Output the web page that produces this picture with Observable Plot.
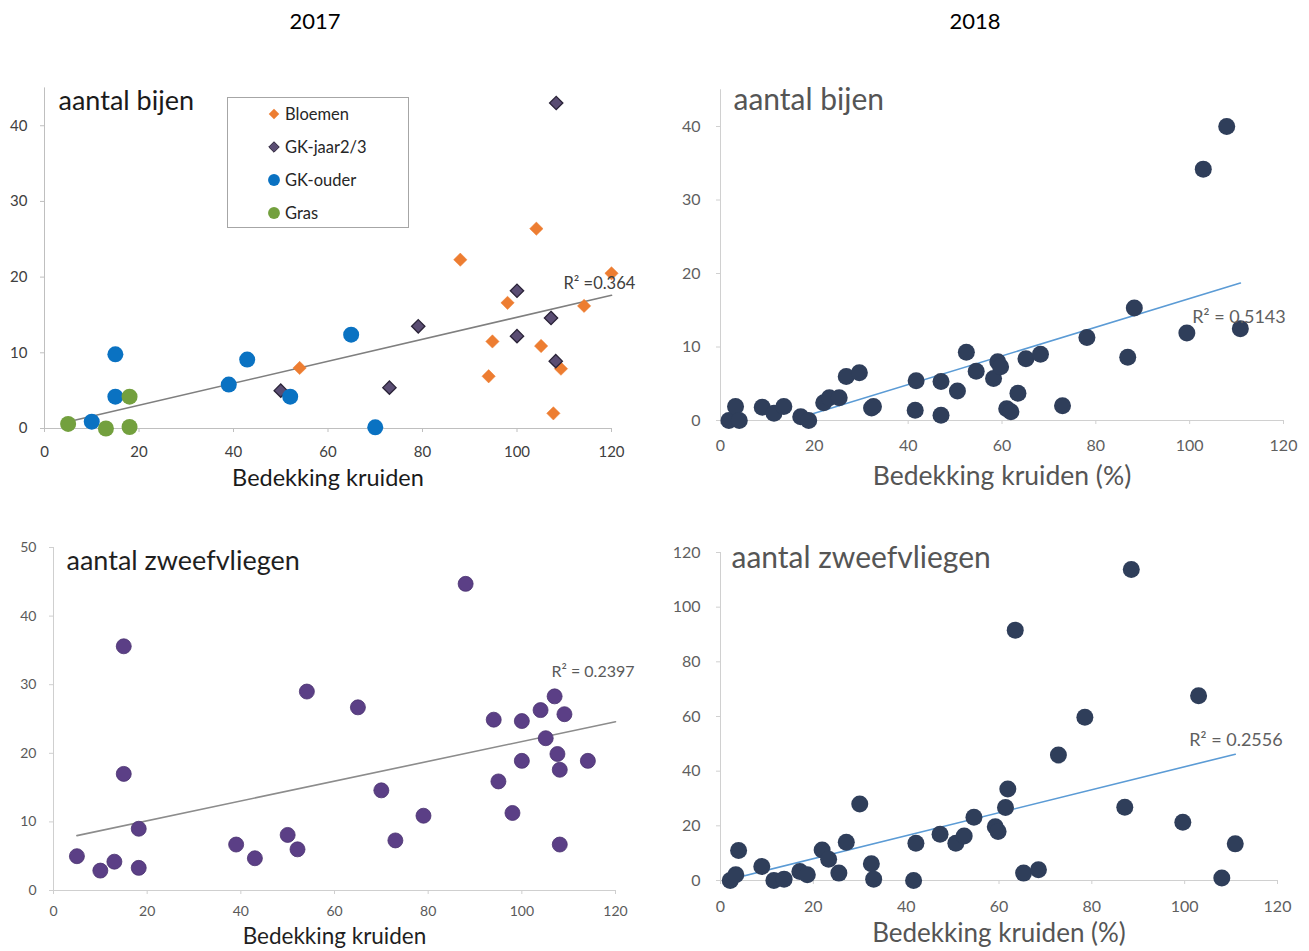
<!DOCTYPE html>
<html>
<head>
<meta charset="utf-8">
<script src="https://cdn.jsdelivr.net/npm/d3@7"></script>
<script src="https://cdn.jsdelivr.net/npm/@observablehq/plot@0.6"></script>
<style>
  body { margin: 0; background: #fff; font-family: Lato, "Open Sans", sans-serif; }
  #wrap { position: relative; width: 1309px; height: 951px; overflow: hidden; background: #fff; }
  .panel { position: absolute; }
  .panel svg { overflow: visible; }
  .year { position: absolute; top: 7px; font-size: 22px; color: #000; transform: translateX(-50%); }
  #legend { position: absolute; left: 227px; top: 97px; width: 182px; height: 131px; border: 1px solid #A6A6A6;
            box-sizing: border-box; background: #fff; }
  #legend .row { position: absolute; left: 39px; height: 20px; display: flex; align-items: center; font-size: 16.5px; color: #262626; }
  #legend svg { margin-right: 4px; }
</style>
</head>
<body>
<div id="wrap"></div>
<script>
// ---------- DATA ----------
const years = ["2017", "2018"];
const xTicks = [0, 20, 40, 60, 80, 100, 120];
const beeTicks = [0, 10, 20, 30, 40];
const fly2017Ticks = [0, 10, 20, 30, 40, 50];
const fly2018Ticks = [0, 20, 40, 60, 80, 100, 120];

// 2017 - aantal bijen, per groep
const seriesNames = ["Bloemen", "GK-jaar2/3", "GK-ouder", "Gras"];
const bloemenX = [54, 88, 104.1, 98, 94.8, 94, 105.1, 107.7, 109.3, 114.2, 120];
const bloemenY = [8.0, 22.3, 26.4, 16.6, 11.5, 6.9, 10.9, 2.0, 7.9, 16.2, 20.5];
const gkJaarX = [108.3, 100, 100, 107.2, 108.2, 79.1, 73, 50];
const gkJaarY = [43.0, 18.2, 12.2, 14.6, 8.9, 13.5, 5.4, 5.0];
const gkOuderX = [15, 15, 10, 39, 42.9, 52, 64.9, 70];
const gkOuderY = [9.8, 4.2, 0.9, 5.8, 9.1, 4.2, 12.4, 0.15];
const grasX = [5, 13, 18, 18];
const grasY = [0.6, 0, 4.2, 0.2];
const trendBees2017X = [5, 120];
const trendBees2017Y = [0.9, 17.6];
const r2Bees2017 = "R\u00B2 =0.364";

// 2018 - aantal bijen
const bees2018X = [1.8, 3.2, 4.0, 8.9, 11.4, 13.5, 17.1, 18.8, 22.0, 23.2, 25.3, 26.8, 29.6, 32.2, 32.6, 41.7, 41.5, 47.0, 47.0, 50.5,
                   52.4, 54.5, 58.2, 59.1, 59.7, 61.0, 61.9, 63.4, 65.1, 68.2, 72.9, 78.1, 86.8, 88.2, 99.4, 102.9, 107.9, 110.8];
const bees2018Y = [0, 1.9, 0, 1.8, 1.0, 1.9, 0.5, 0, 2.4, 3.1, 3.1, 6.0, 6.5, 1.7, 1.9, 5.4, 1.4, 5.3, 0.7, 4.0,
                   9.3, 6.7, 5.7, 8.0, 7.3, 1.6, 1.2, 3.7, 8.4, 9.0, 2.0, 11.3, 8.6, 15.3, 11.9, 34.2, 40.0, 12.5];
const trendBees2018X = [16.7, 110.8];
const trendBees2018Y = [0.35, 18.7];
const r2Bees2018 = "R\u00B2 = 0.5143";

// 2017 - aantal zweefvliegen
const flies2017X = [5, 10, 13, 15, 15, 18.2, 18.2, 39, 43, 50, 52.1, 54.1, 65, 70, 73, 79, 88, 94, 95, 98,
                    100, 100, 104, 105.1, 107, 107.6, 108.1, 108.1, 109.1, 114.1];
const flies2017Y = [5.0, 2.9, 4.2, 35.6, 17.0, 9.0, 3.3, 6.7, 4.7, 8.1, 6.0, 29.0, 26.7, 14.6, 7.3, 10.9, 44.7, 24.9, 15.9, 11.3,
                    24.7, 18.9, 26.3, 22.2, 28.3, 19.9, 17.6, 6.7, 25.7, 18.9];
const trendFlies2017X = [5, 120];
const trendFlies2017Y = [8.0, 24.6];
const r2Flies2017 = "R\u00B2 = 0.2397";

// 2018 - aantal zweefvliegen
const flies2018X = [2.1, 3.3, 3.9, 8.9, 11.5, 13.7, 17.1, 18.7, 21.9, 23.3, 25.5, 27.1, 30.0, 32.5, 33.0, 41.6, 42.1, 47.3,
                    50.7, 52.5, 54.6, 59.2, 59.8, 61.4, 61.9, 63.5, 65.3, 68.5, 72.8, 78.5, 87.1, 88.5, 99.6, 103.0, 108.0, 110.9];
const flies2018Y = [0, 2.1, 11.0, 5.1, 0, 0.5, 3.3, 2.1, 11.2, 7.8, 2.7, 14.0, 28.0, 6.1, 0.5, 0, 13.6, 16.9,
                    13.6, 16.3, 23.1, 19.7, 17.9, 26.7, 33.5, 91.6, 2.7, 3.9, 45.9, 59.7, 26.8, 113.8, 21.3, 67.6, 0.9, 13.4];
const trendFlies2018X = [2.0, 110.9];
const trendFlies2018Y = [0.4, 46.2];
const r2Flies2018 = "R\u00B2 = 0.2556";

const titleBees = "aantal bijen";
const titleFlies = "aantal zweefvliegen";
const xLabel2017 = "Bedekking kruiden";
const xLabel2018 = "Bedekking kruiden (%)";

// ---------- HELPERS ----------
const zip = (xs, ys) => xs.map((x, i) => ({x, y: ys[i]}));
const wrap = document.getElementById("wrap");

function panel(cfg) {
  const trend = zip(cfg.trendX, cfg.trendY);
  const end = trend[trend.length - 1];
  const chart = Plot.plot({
    width: cfg.width, height: cfg.height,
    marginLeft: cfg.ml, marginRight: cfg.mr, marginTop: cfg.mt, marginBottom: cfg.mb,
    style: {fontFamily: "Lato, 'Open Sans', sans-serif", background: "transparent", overflow: "visible"},
    x: {domain: [0, 120]},
    y: {domain: [0, cfg.yMax]},
    marks: [
      Plot.ruleY([0], {stroke: cfg.axisColor}),
      Plot.ruleX([0], {stroke: cfg.axisColor}),
      Plot.axisX({ticks: xTicks, tickSize: 4, tickPadding: cfg.xPad, fontSize: cfg.tickFont,
                  stroke: cfg.axisColor, fill: cfg.tickColor, label: null}),
      Plot.axisY({ticks: cfg.yTicks, tickSize: 4, tickPadding: cfg.yPad, fontSize: cfg.tickFont,
                  stroke: cfg.axisColor, fill: cfg.tickColor, label: null}),
      Plot.line(trend, {x: "x", y: "y", stroke: cfg.trendColor, strokeWidth: 1.6}),
      ...cfg.dots,
      Plot.text([cfg.title], {frameAnchor: "top-left", dx: cfg.titleDx, dy: cfg.titleDy, textAnchor: "start",
                              lineAnchor: "middle", fontSize: cfg.titleFont, fill: cfg.titleColor}),
      Plot.text([cfg.xLabel], {frameAnchor: "bottom", dy: cfg.xLabelDy, lineAnchor: "middle",
                               fontSize: cfg.xLabelFont, fill: cfg.titleColor}),
      Plot.text([cfg.r2], {x: () => end.x, y: () => end.y, dx: cfg.r2Dx, dy: cfg.r2Dy, textAnchor: "start",
                           lineAnchor: "middle", fontSize: cfg.r2Font, fill: cfg.tickColor})
    ]
  });
  const div = document.createElement("div");
  div.className = "panel";
  div.style.left = cfg.left + "px";
  div.style.top = cfg.top + "px";
  div.appendChild(chart);
  wrap.appendChild(div);
}

// ---------- PANELS ----------
panel({
  left: 0, top: 60, width: 655, height: 445, ml: 44, mr: 44, mt: 27.4, mb: 77, yMax: 45, yTicks: beeTicks,
  axisColor: "#BFBFBF", tickColor: "#404040", titleColor: "#1a1a1a", trendColor: "#7F7F7F",
  tickFont: 15, xPad: 14, yPad: 13, titleFont: 27, xLabelFont: 23.5, r2Font: 16.5,
  title: titleBees, titleDx: 14, titleDy: 13.6, xLabel: xLabel2017, xLabelDy: 50,
  trendX: trendBees2017X, trendY: trendBees2017Y, r2: r2Bees2017, r2Dx: -48, r2Dy: -12,
  dots: [
    Plot.dot(zip(bloemenX, bloemenY), {x: "x", y: "y", symbol: "diamond2", r: 6, fill: "#ED7D31", stroke: "#ED7D31", strokeWidth: 0.5}),
    Plot.dot(zip(gkJaarX, gkJaarY), {x: "x", y: "y", symbol: "diamond2", r: 6, fill: "#5A4D73", stroke: "#2A2338", strokeWidth: 1.3}),
    Plot.dot(zip(gkOuderX, gkOuderY), {x: "x", y: "y", symbol: "circle", r: 8, fill: "#0A72C2"}),
    Plot.dot(zip(grasX, grasY), {x: "x", y: "y", symbol: "circle", r: 8, fill: "#73A03E"})
  ]
});

panel({
  left: 655, top: 60, width: 654, height: 445, ml: 65, mr: 26, mt: 29.25, mb: 85, yMax: 45, yTicks: beeTicks,
  axisColor: "#D0D0D0", tickColor: "#5F5F5F", titleColor: "#555555", trendColor: "#5B9BD5",
  tickFont: 16, xPad: 15, yPad: 16, titleFont: 30, xLabelFont: 26.5, r2Font: 18,
  title: titleBees, titleDx: 13, titleDy: 11, xLabel: xLabel2018, xLabelDy: 56,
  trendX: trendBees2018X, trendY: trendBees2018Y, r2: r2Bees2018, r2Dx: -48, r2Dy: 34,
  dots: [
    Plot.dot(zip(bees2018X, bees2018Y), {x: "x", y: "y", r: 8.5, fill: "#2F3E5A"})
  ]
});

panel({
  left: 0, top: 520, width: 655, height: 431, ml: 53, mr: 40, mt: 27, mb: 61, yMax: 50, yTicks: fly2017Ticks,
  axisColor: "#CFCFCF", tickColor: "#5A5A5A", titleColor: "#1f1f1f", trendColor: "#8C8C8C",
  tickFont: 14, xPad: 12, yPad: 13, titleFont: 27, xLabelFont: 22.5, r2Font: 16,
  title: titleFlies, titleDx: 13, titleDy: 14, xLabel: xLabel2017, xLabelDy: 46,
  trendX: trendFlies2017X, trendY: trendFlies2017Y, r2: r2Flies2017, r2Dx: -64, r2Dy: -50,
  dots: [
    Plot.dot(zip(flies2017X, flies2017Y), {x: "x", y: "y", r: 7.5, fill: "#5B3F86", stroke: "#4A3270", strokeWidth: 0.8})
  ]
});

panel({
  left: 655, top: 520, width: 654, height: 431, ml: 65, mr: 32, mt: 32, mb: 71, yMax: 120, yTicks: fly2018Ticks,
  axisColor: "#D0D0D0", tickColor: "#5F5F5F", titleColor: "#555555", trendColor: "#5B9BD5",
  tickFont: 16, xPad: 16, yPad: 16, titleFont: 30, xLabelFont: 26, r2Font: 18,
  title: titleFlies, titleDx: 11, titleDy: 6, xLabel: xLabel2018, xLabelDy: 53,
  trendX: trendFlies2018X, trendY: trendFlies2018Y, r2: r2Flies2018, r2Dx: -46, r2Dy: -14,
  dots: [
    Plot.dot(zip(flies2018X, flies2018Y), {x: "x", y: "y", r: 8.5, fill: "#2F3E5A"})
  ]
});

// ---------- YEAR HEADINGS ----------
const yearCenters = [315, 975];
years.forEach((yr, i) => {
  const d = document.createElement("div");
  d.className = "year";
  d.style.left = yearCenters[i] + "px";
  d.textContent = yr;
  wrap.appendChild(d);
});

// ---------- LEGEND (2017 bijen) ----------
const legendColors = ["#ED7D31", "#5A4D73", "#0A72C2", "#73A03E"];
const legendStrokes = ["#ED7D31", "#2A2338", "#0A72C2", "#73A03E"];
const legendSymbols = [d3.symbolDiamond2, d3.symbolDiamond2, d3.symbolCircle, d3.symbolCircle];
const legend = document.createElement("div");
legend.id = "legend";
seriesNames.forEach((name, i) => {
  const row = document.createElement("div");
  row.className = "row";
  row.style.top = (6 + i * 33) + "px";
  const svg = d3.create("svg").attr("width", 14).attr("height", 14).attr("viewBox", "-7 -7 14 14");
  svg.append("path").attr("d", d3.symbol(legendSymbols[i], i < 2 ? 70 : 110)())
     .attr("fill", legendColors[i]).attr("stroke", legendStrokes[i]).attr("stroke-width", i === 1 ? 1 : 0);
  row.appendChild(svg.node());
  const t = document.createElement("span");
  t.textContent = name;
  row.appendChild(t);
  legend.appendChild(row);
});
wrap.appendChild(legend);
</script>
</body>
</html>
